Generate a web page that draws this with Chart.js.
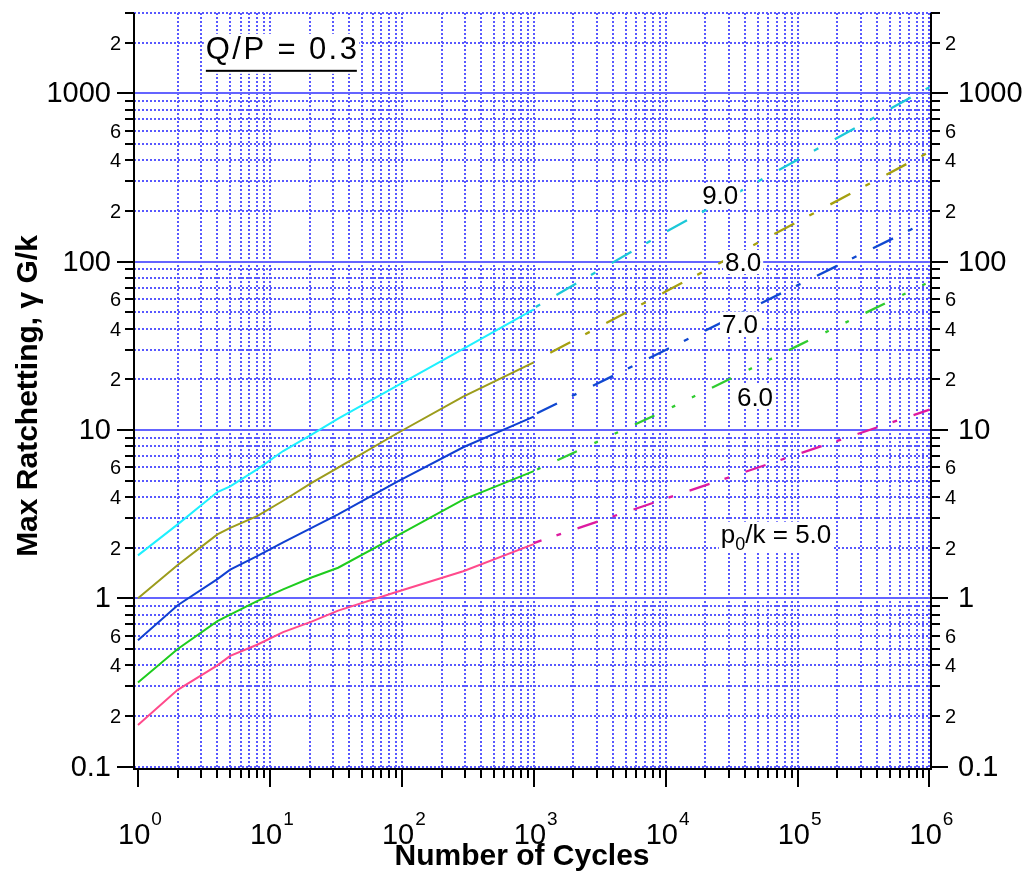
<!DOCTYPE html>
<html>
<head>
<meta charset="utf-8">
<script src="https://cdn.jsdelivr.net/npm/chart.js@4/dist/chart.umd.min.js"></script>
<style>
  html, body { margin: 0; padding: 0; background: #ffffff; }
  canvas { display: block; }
</style>
</head>
<body>
<canvas id="chart" width="1031" height="878"></canvas>
<script>
// ---------------- DATA ----------------
// measured part (solid lines), cycles
const measuredCycles = [1, 2, 4, 5, 8, 12.6, 20.7, 32.9, 91, 292, 1000];
// max ratchetting gamma G/k for each p0/k
const ratchetP9 = [1.80, 2.75, 4.28, 4.63, 5.84, 7.5, 9.4, 11.7, 18.2, 30.3, 52];
const ratchetP8 = [1.00, 1.58, 2.40, 2.62, 3.08, 3.80, 4.85, 5.98, 9.5, 15.8, 25.2];
const ratchetP7 = [0.563, 0.91, 1.30, 1.48, 1.78, 2.15, 2.62, 3.15, 4.9, 7.9, 12.0];
const ratchetP6 = [0.316, 0.50, 0.733, 0.80, 0.964, 1.13, 1.33, 1.52, 2.34, 3.86, 5.7];
const ratchetP5 = [0.177, 0.286, 0.40, 0.455, 0.53, 0.63, 0.728, 0.845, 1.09, 1.45, 2.1];
// extrapolated part (dashed lines)
const extrapCycles = [1000, 10000, 100000, 1000000];
const extrapP9 = [53, 150, 403, 1088];
const extrapP8 = [25.5, 66.4, 172.6, 449];
const extrapP7 = [12.3, 29.9, 72.4, 175.8];
const extrapP6 = [5.7, 13.1, 31.6, 75.9];
const extrapP5 = [2.13, 3.91, 7.18, 13.2];

const seriesNames = ['9.0', '8.0', '7.0', '6.0', '5.0'];
const xTickDecades = [0, 1, 2, 3, 4, 5, 6];
const yTickDecades = [-1, 0, 1, 2, 3];
const yLabelledMantissas = [2, 4, 6];

// ---------------- STYLE ----------------
const FONT = "'Liberation Sans', Arial, Helvetica, sans-serif";
const solidColors = ['#1ef0ff', '#9c9c1c', '#1040d0', '#1ecc1e', '#ff4a8c'];
const dashColors  = ['#1cc8d8', '#a5a010', '#1048d0', '#30cc30', '#dd1aa0'];
const dashPatterns = [
  [22.8, 17.1, 5.1, 18.8],
  [22.6, 17.0, 5.1, 18.7],
  [22.3, 16.7, 5.0, 18.4],
  [21.5, 19.3, 3.7, 18.6, 3.7, 18.6],
  [21.1, 15.8, 4.8, 17.4]
];
const dashOffsets = [37.6, 44.7, 58.8, 59.4, 12.9];
const gridColor = 'rgb(88,88,255)';
const majorGridColor = 'rgb(100,100,255)';

const measured = [ratchetP9, ratchetP8, ratchetP7, ratchetP6, ratchetP5];
const extrap = [extrapP9, extrapP8, extrapP7, extrapP6, extrapP5];

const datasets = [];
seriesNames.forEach((name, i) => {
  datasets.push({
    label: 'p0/k = ' + name + ' measured',
    data: measuredCycles.map((c, j) => ({ x: c, y: measured[i][j] })),
    borderColor: solidColors[i],
    borderWidth: 2,
    pointRadius: 0,
    tension: 0
  });
  datasets.push({
    label: 'p0/k = ' + name + ' extrapolated',
    data: extrapCycles.map((c, j) => ({ x: c, y: extrap[i][j] })),
    borderColor: dashColors[i],
    borderWidth: 2.3,
    borderDash: dashPatterns[i],
    borderDashOffset: dashOffsets[i],
    borderCapStyle: 'butt',
    pointRadius: 0,
    tension: 0
  });
});

function decadeTicks(decades, maxVal) {
  const out = [];
  decades.forEach(e => {
    for (let m = 1; m <= 9; m++) {
      const v = Number((m * Math.pow(10, e)).toPrecision(4));
      if (v <= maxVal) out.push({ value: v, m: m, e: e });
    }
  });
  return out;
}
const xTicks = decadeTicks([0, 1, 2, 3, 4, 5], 1e6).concat([{ value: 1e6, m: 1, e: 6 }]);
const yTicks = decadeTicks(yTickDecades, 3000);

const X_MIN = 0.933, X_MAX = 1.0266e6, Y_MIN = 0.0969, Y_MAX = 3000;

// annotations (anchored in data coordinates)
const annotations = [
  { text: '9.0', x: 1.89e4, y: 219 },
  { text: '8.0', x: 2.82e4, y: 88 },
  { text: '7.0', x: 2.67e4, y: 37.9 },
  { text: '6.0', x: 3.47e4, y: 13.9 }
];

const axesPlugin = {
  id: 'axesPlugin',
  afterDatasetsDraw(chart) {
    const ctx = chart.ctx;
    const xs = chart.scales.x, ys = chart.scales.y;
    const area = chart.chartArea;
    ctx.save();
    ctx.fillStyle = '#000';
    ctx.textBaseline = 'alphabetic';

    // curve labels with white boxes
    ctx.font = '26px ' + FONT;
    annotations.forEach(a => {
      const px = xs.getPixelForValue(a.x), py = ys.getPixelForValue(a.y);
      const w = ctx.measureText(a.text).width;
      ctx.fillStyle = '#fff';
      ctx.fillRect(px - 2, py - 21, w + 4, 24);
      ctx.fillStyle = '#000';
      ctx.fillText(a.text, px, py);
    });
    // p0/k = 5.0 with subscript
    {
      const px = xs.getPixelForValue(2.62e4), py = ys.getPixelForValue(2.14);
      ctx.font = '26px ' + FONT;
      const wp = ctx.measureText('p').width;
      ctx.font = '18px ' + FONT;
      const w0 = ctx.measureText('0').width;
      ctx.font = '26px ' + FONT;
      const wr = ctx.measureText('/k = 5.0').width;
      ctx.fillStyle = '#fff';
      ctx.fillRect(px - 2, py - 21, wp + w0 + wr + 4, 31);
      ctx.fillStyle = '#000';
      ctx.fillText('p', px, py);
      ctx.font = '18px ' + FONT;
      ctx.fillText('0', px + wp, py + 7);
      ctx.font = '26px ' + FONT;
      ctx.fillText('/k = 5.0', px + wp + w0, py);
    }
    // Q/P = 0.3 with underline
    {
      const px = xs.getPixelForValue(3.27), py = ys.getPixelForValue(1603);
      ctx.font = '31px ' + FONT;
      if ('letterSpacing' in ctx) ctx.letterSpacing = '2.4px';
      const t = 'Q/P = 0.3';
      const w = ctx.measureText(t).width;
      ctx.fillStyle = '#fff';
      ctx.fillRect(px - 2, py - 25, w + 2, 40);
      ctx.fillStyle = '#000';
      ctx.fillText(t, px, py);
      if ('letterSpacing' in ctx) ctx.letterSpacing = '0px';
      ctx.fillRect(px, py + 11, 151, 2);
    }

    // axis lines
    ctx.strokeStyle = '#000';
    ctx.lineWidth = 2;
    ctx.beginPath();
    ctx.moveTo(area.left, area.top);
    ctx.lineTo(area.left, area.bottom);
    ctx.lineTo(area.right, area.bottom);
    ctx.lineTo(area.right, area.top);
    ctx.stroke();

    // y ticks + labels (both sides)
    yTicks.forEach(t => {
      const py = Math.round(ys.getPixelForValue(t.value));
      const major = t.m === 1;
      const len = major ? 17 : 9;
      ctx.beginPath();
      ctx.moveTo(area.left - len, py); ctx.lineTo(area.left, py);
      ctx.moveTo(area.right, py); ctx.lineTo(area.right + len, py);
      ctx.stroke();
      let label = null;
      if (major) label = t.e < 0 ? '0.1' : String(Math.pow(10, t.e));
      else if (yLabelledMantissas.indexOf(t.m) >= 0) label = String(t.m);
      if (label) {
        ctx.font = (major ? '29px ' : '20px ') + FONT;
        ctx.textBaseline = 'middle';
        ctx.textAlign = 'right';
        ctx.fillText(label, area.left - (major ? 23 : 13), py + 1);
        ctx.textAlign = 'left';
        ctx.fillText(label, area.right + (major ? 27 : 14), py + 1);
      }
    });
    ctx.textAlign = 'left';
    ctx.textBaseline = 'alphabetic';

    // x ticks
    xTicks.forEach(t => {
      const px = Math.round(xs.getPixelForValue(t.value));
      const len = t.m === 1 ? 18 : 9;
      ctx.beginPath();
      ctx.moveTo(px, area.bottom); ctx.lineTo(px, area.bottom + len);
      ctx.stroke();
    });
    // x labels 10^n
    xTickDecades.forEach(e => {
      const px = xs.getPixelForValue(Math.pow(10, e));
      ctx.font = '29px ' + FONT;
      const wb = ctx.measureText('10').width;
      ctx.font = '19px ' + FONT;
      const we = ctx.measureText(String(e)).width;
      const x0 = px - (wb + we) / 2 + 1.5;
      const base = area.bottom + 75;
      ctx.font = '29px ' + FONT;
      ctx.fillText('10', x0, base);
      ctx.font = '19px ' + FONT;
      ctx.fillText(String(e), x0 + wb + 1, base - 19);
    });

    // axis titles
    ctx.font = 'bold 30px ' + FONT;
    ctx.textAlign = 'center';
    ctx.fillText('Number of Cycles', 522, area.bottom + 96);
    ctx.save();
    ctx.translate(37, 396);
    ctx.rotate(-Math.PI / 2);
    ctx.fillText('Max Ratchetting, \u03b3 G/k', 0, 0);
    ctx.restore();
    ctx.restore();
  }
};

new Chart(document.getElementById('chart'), {
  type: 'line',
  data: { datasets: datasets },
  options: {
    responsive: false,
    animation: false,
    devicePixelRatio: 1,
    layout: { padding: { left: 134, right: 100, top: 13, bottom: 109 } },
    plugins: { legend: { display: false }, tooltip: { enabled: false } },
    elements: { point: { radius: 0 }, line: { tension: 0 } },
    scales: {
      x: {
        type: 'logarithmic',
        min: X_MIN, max: X_MAX,
        afterBuildTicks: s => { s.ticks = xTicks.map(t => ({ value: t.value })); },
        ticks: { display: false },
        grid: {
          color: c => (c.tick && c.tick.value === 1) ? 'rgba(0,0,0,0)' : gridColor,
          lineWidth: 2, drawTicks: false
        },
        border: { display: false, dash: [2, 2] }
      },
      y: {
        type: 'logarithmic',
        min: Y_MIN, max: Y_MAX,
        afterBuildTicks: s => { s.ticks = yTicks.map(t => ({ value: t.value })); },
        ticks: { display: false },
        grid: {
          color: c => (c.tick && [1, 10, 100, 1000].indexOf(c.tick.value) >= 0) ? 'rgba(0,0,0,0)' : gridColor,
          lineWidth: 2, drawTicks: false
        },
        border: { display: false, dash: [2, 2] }
      },
      y2: {
        type: 'logarithmic',
        position: 'right',
        min: Y_MIN, max: Y_MAX,
        afterBuildTicks: s => { s.ticks = [1, 10, 100, 1000].map(v => ({ value: v })); },
        ticks: { display: false },
        grid: { color: majorGridColor, lineWidth: 2, drawTicks: false },
        border: { display: false }
      }
    }
  },
  plugins: [axesPlugin]
});
</script>
</body>
</html>
